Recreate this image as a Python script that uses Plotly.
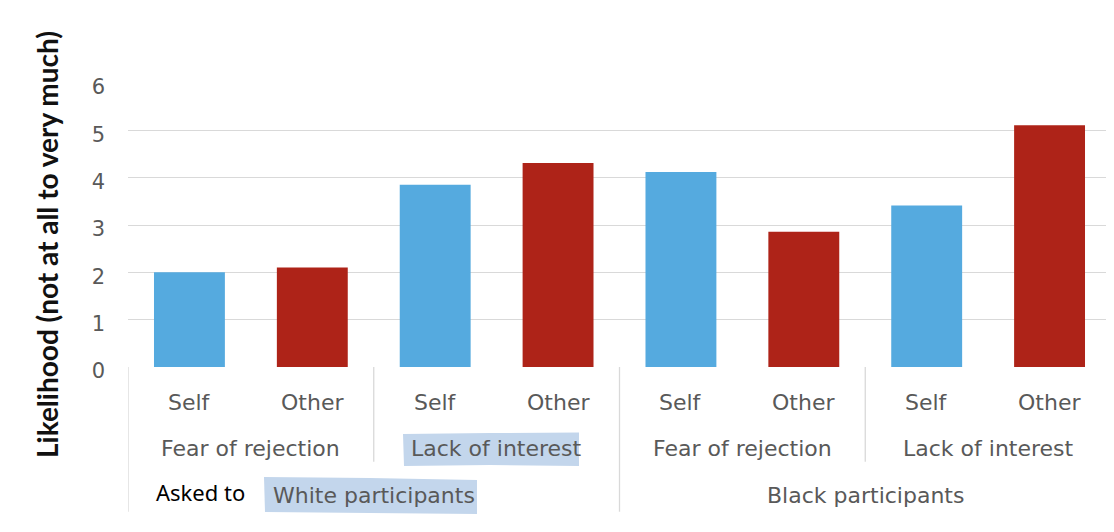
import plotly.graph_objects as go

# ---- data ----
participants = ["White participants", "Black participants"]
reasons = ["Fear of rejection", "Lack of interest"]
targets = ["Self", "Other"]
values = [2.00, 2.10, 3.85, 4.31, 4.12, 2.86, 3.41, 5.11]
y_ticks = [0, 1, 2, 3, 4, 5, 6]
y_title = "Likelihood (not at all to very much)"
asked_label = "Asked to"
target_colors = {"Self": "#55AADF", "Other": "#AE2318"}

GRAY = "#595959"
LINE = "#d9d9d9"
FONT = "DejaVu Sans"

ids, cols, tlab = [], [], []
for p in participants:
    for r in reasons:
        for t in targets:
            ids.append(f"{p}|{r}|{t}")
            cols.append(target_colors[t])
            tlab.append(t)

fig = go.Figure(go.Bar(x=ids, y=values, width=0.577,
                       marker=dict(color=cols, line=dict(width=0)),
                       hoverinfo="x+y"))

# page offset (body margin) and plot-area geometry in page pixels
OFF = 8
L_PIX, W_PLOT = 128, 983
T_PIX, H_PLOT = 83, 284
FIG_W, FIG_H = 1114 - OFF, 532 - OFF
Y0_PIX = T_PIX + H_PLOT

def py(pix):
    return (Y0_PIX - pix) / H_PLOT

def px(pix):
    return (pix - L_PIX) / W_PLOT

shapes = []
# highlighter marks (behind text)
shapes.append(dict(type="path", xref="paper", yref="paper", layer="above",
                   path=f"M {px(403)},{py(434)} L {px(490)},{py(433)} L {px(579)},{py(432.5)} "
                        f"L {px(579)},{py(466)} L {px(490)},{py(465)} L {px(404)},{py(466)} Z",
                   fillcolor="#c3d6ec", line=dict(width=0)))
shapes.append(dict(type="path", xref="paper", yref="paper", layer="above",
                   path=f"M {px(264)},{py(477)} L {px(370)},{py(478)} L {px(477)},{py(480)} "
                        f"L {px(477)},{py(514)} L {px(370)},{py(513)} L {px(265)},{py(512)} Z",
                   fillcolor="#c3d6ec", line=dict(width=0)))

# category separators
n = len(ids)
per_part = len(reasons) * len(targets)
for i in range(0, n + 1, len(targets)):
    long_line = (i % per_part == 0)
    shapes.append(dict(type="line", xref="x", yref="paper",
                       x0=i - 0.5, x1=i - 0.5, y0=0, y1=py(511.7) if long_line else py(461.7),
                       line=dict(color=LINE, width=1.3), layer="below"))

annotations = []
for i, t in enumerate(tlab):
    annotations.append(dict(x=i, y=py(402), xref="x", yref="paper", text=t,
                            showarrow=False, yanchor="middle",
                            font=dict(family=FONT, size=22, color=GRAY)))
k = 0
for p in participants:
    for r in reasons:
        annotations.append(dict(x=k + 0.5, y=py(448), xref="x", yref="paper", text=r,
                                showarrow=False, yanchor="middle",
                                font=dict(family=FONT, size=22, color=GRAY)))
        k += len(targets)
for j, p in enumerate(participants):
    annotations.append(dict(x=j * per_part + (per_part - 1) / 2, y=py(495), xref="x", yref="paper",
                            text=p, showarrow=False, yanchor="middle",
                            font=dict(family=FONT, size=22, color=GRAY)))
annotations.append(dict(x=px(200), y=py(492), xref="paper", yref="paper", text=asked_label,
                        showarrow=False, yanchor="middle", xanchor="center",
                        font=dict(family="Noto Sans", size=22, color="#000000")))
annotations.append(dict(x=px(47), y=py(245), xref="paper", yref="paper", text=y_title,
                        textangle=-90, showarrow=False, xanchor="center", yanchor="middle",
                        font=dict(family="Lato", size=28, color="#111111", weight="bold")))

fig.update_layout(
    width=FIG_W, height=FIG_H,
    margin=dict(l=L_PIX - OFF, r=FIG_W - (L_PIX - OFF) - W_PLOT,
                t=T_PIX - OFF, b=FIG_H - (T_PIX - OFF) - H_PLOT, pad=0),
    paper_bgcolor="white", plot_bgcolor="white",
    showlegend=False,
    shapes=shapes, annotations=annotations,
    xaxis=dict(type="category", range=[-0.5, n - 0.5], showticklabels=False, automargin=False,
               showgrid=False, zeroline=False, showline=False, ticks=""),
    yaxis=dict(range=[0, 6], tickvals=y_ticks, showgrid=True, gridcolor=LINE, gridwidth=1.3,
               automargin=False,
               zeroline=False, showline=False, ticks="", ticklabelstandoff=22,
               ticklabelshift=4,
               tickfont=dict(family=FONT, size=21, color=GRAY)),
)

fig.write_html("out.html")
